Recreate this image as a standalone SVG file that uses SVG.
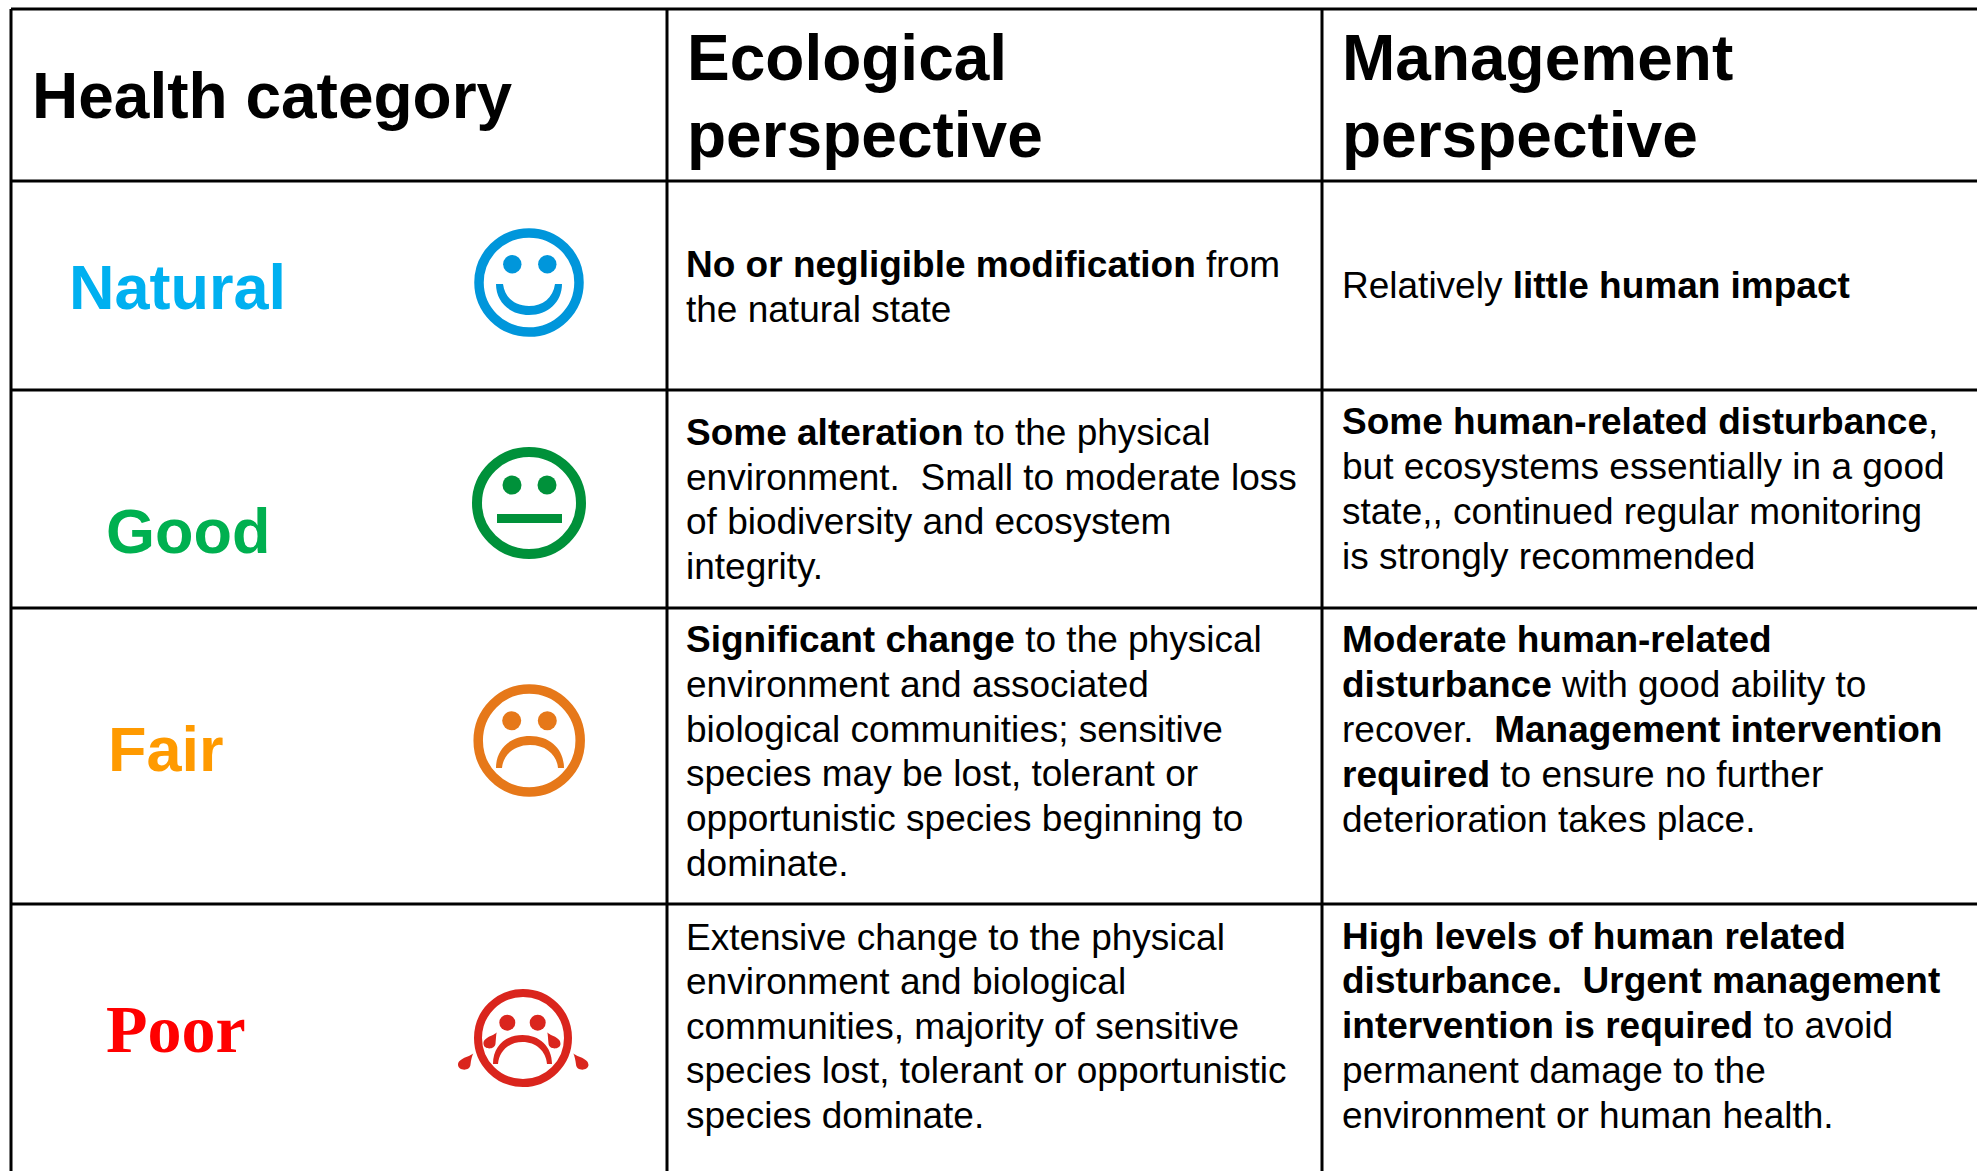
<svg xmlns="http://www.w3.org/2000/svg" width="1977" height="1171" viewBox="0 0 1977 1171">
<style>
.grid line { stroke: #000; stroke-width: 3; }
.hdr { font-family: "Liberation Sans", Arial, sans-serif; font-weight: bold; font-size: 64px; fill: #000; }
.body { font-family: "Liberation Sans", Arial, sans-serif; font-size: 37px; fill: #000; }
.b { font-weight: bold; }
.cat { font-family: "Liberation Sans", Arial, sans-serif; font-weight: bold; font-size: 63px; }
</style>
<rect x="0" y="0" width="1977" height="1171" fill="#fff"/>
<g id="grid" class="grid">
  <line x1="11" y1="9" x2="1977" y2="9"/>
  <line x1="11" y1="181" x2="1977" y2="181"/>
  <line x1="11" y1="390" x2="1977" y2="390"/>
  <line x1="11" y1="608" x2="1977" y2="608"/>
  <line x1="11" y1="904" x2="1977" y2="904"/>
  <line x1="11" y1="9" x2="11" y2="1171"/>
  <line x1="667" y1="9" x2="667" y2="1171"/>
  <line x1="1322" y1="9" x2="1322" y2="1171"/>
</g>
<g id="header">
  <text class="hdr" x="32" y="118" font-size="62.5">Health category</text>
  <text class="hdr" x="687" y="80">Ecological</text>
  <text class="hdr" x="687" y="157">perspective</text>
  <text class="hdr" x="1342" y="80">Management</text>
  <text class="hdr" x="1342" y="157">perspective</text>
</g>
<g id="row-natural">
  <text class="cat" x="69" y="309" font-size="64" fill="#00B0F0">Natural</text>
  <g id="face-natural">
    <ellipse cx="529" cy="282.5" rx="50" ry="49.5" fill="none" stroke="#0096DB" stroke-width="9.5"/>
    <circle cx="512.3" cy="264.3" r="9.2" fill="#0096DB"/>
    <circle cx="547.3" cy="264.3" r="9.2" fill="#0096DB"/>
    <path d="M496,284 C496,302 510,315 529,315 C548,315 562,302 562,284 L555,284 C553,298 543,306 529,306 C515,306 505,298 503,284 Z" fill="#0096DB"/>
  </g>
  <text class="body" x="686" y="277"><tspan class="b">No or negligible modification</tspan> from</text>
  <text class="body" x="686" y="322">the natural state</text>
  <text class="body" x="1342" y="298">Relatively <tspan class="b">little human impact</tspan></text>
</g>
<g id="row-good">
  <text class="cat" x="106" y="553" fill="#00B050">Good</text>
  <g id="face-good">
    <ellipse cx="529" cy="503" rx="52" ry="51" fill="none" stroke="#00913A" stroke-width="10"/>
    <circle cx="512" cy="485" r="9.5" fill="#00913A"/>
    <circle cx="547" cy="485" r="9.5" fill="#00913A"/>
    <rect x="497" y="514" width="65" height="9" fill="#00913A"/>
  </g>
  <text class="body" x="686" y="445"><tspan class="b">Some alteration</tspan> to the physical</text>
  <text class="body" x="686" y="490" xml:space="preserve">environment.  Small to moderate loss</text>
  <text class="body" x="686" y="534">of biodiversity and ecosystem</text>
  <text class="body" x="686" y="579">integrity.</text>
  <text class="body" x="1342" y="434"><tspan class="b">Some human-related disturbance</tspan>,</text>
  <text class="body" x="1342" y="479">but ecosystems essentially in a good</text>
  <text class="body" x="1342" y="524">state,, continued regular monitoring</text>
  <text class="body" x="1342" y="569">is strongly recommended</text>
</g>
<g id="row-fair">
  <text class="cat" x="108" y="771" font-size="62" fill="#FF9A00">Fair</text>
  <g id="face-fair">
    <ellipse cx="529.2" cy="740.5" rx="51" ry="51.5" fill="none" stroke="#E67819" stroke-width="9.5"/>
    <circle cx="511.7" cy="720.7" r="9.5" fill="#E67819"/>
    <circle cx="547.3" cy="720.7" r="9.5" fill="#E67819"/>
    <path d="M496,768 C496,749 510,736 530,736 C550,736 564,749 564,768 L558,768 C557,755 546,745 530,745 C514,745 503,755 502,768 Z" fill="#E67819"/>
  </g>
  <text class="body" x="686" y="652"><tspan class="b">Significant change</tspan> to the physical</text>
  <text class="body" x="686" y="697">environment and associated</text>
  <text class="body" x="686" y="742">biological communities; sensitive</text>
  <text class="body" x="686" y="786">species may be lost, tolerant or</text>
  <text class="body" x="686" y="831">opportunistic species beginning to</text>
  <text class="body" x="686" y="876">dominate.</text>
  <text class="body" x="1342" y="652"><tspan class="b">Moderate human-related</tspan></text>
  <text class="body" x="1342" y="697"><tspan class="b">disturbance</tspan> with good ability to</text>
  <text class="body" x="1342" y="742" xml:space="preserve">recover.  <tspan class="b">Management intervention</tspan></text>
  <text class="body" x="1342" y="787"><tspan class="b">required</tspan> to ensure no further</text>
  <text class="body" x="1342" y="832">deterioration takes place.</text>
</g>
<g id="row-poor">
  <text x="106" y="1052" font-family="'Liberation Serif', 'Times New Roman', serif" font-weight="bold" font-size="68" fill="#FF0000">Poor</text>
  <g id="face-poor" fill="#DA251D">
    <circle cx="523" cy="1038" r="45" fill="none" stroke="#DA251D" stroke-width="8"/>
    <circle cx="507.3" cy="1022.7" r="8" />
    <circle cx="537.7" cy="1022.7" r="8" />
    <path d="M493,1064 C493,1046 506,1035 522.5,1035 C539,1035 552,1046 552,1064 L547,1064 C546,1051 536,1042 522.5,1042 C509,1042 499,1051 498,1064 Z"/>
    <path d="M496.7,1032.3 C494,1036 483,1037 483.5,1044 C484,1050 495,1050 495.5,1043.5 C496,1039 496,1035 496.7,1032.3 Z"/>
    <path d="M547.3,1032.3 C550,1036 561,1037 560.5,1044 C560,1050 549,1050 548.5,1043.5 C548,1039 548,1035 547.3,1032.3 Z"/>
    <path d="M473.3,1053.3 C470,1057 458,1058 458,1065 C458.5,1071 470,1071.5 470.5,1064.5 C471,1060 472,1056 473.3,1053.3 Z"/>
    <path d="M573.3,1053.3 C576.5,1057 588.5,1058 588.5,1065 C588,1071 576.5,1071.5 576,1064.5 C575.5,1060 574.5,1056 573.3,1053.3 Z"/>
  </g>
  <text class="body" x="686" y="950">Extensive change to the physical</text>
  <text class="body" x="686" y="994">environment and biological</text>
  <text class="body" x="686" y="1039">communities, majority of sensitive</text>
  <text class="body" x="686" y="1083">species lost, tolerant or opportunistic</text>
  <text class="body" x="686" y="1128">species dominate.</text>
  <text class="body" x="1342" y="949"><tspan class="b">High levels of human related</tspan></text>
  <text class="body" x="1342" y="993" xml:space="preserve"><tspan class="b">disturbance.  Urgent management</tspan></text>
  <text class="body" x="1342" y="1038"><tspan class="b">intervention is required</tspan> to avoid</text>
  <text class="body" x="1342" y="1083">permanent damage to the</text>
  <text class="body" x="1342" y="1128">environment or human health.</text>
</g>
</svg>
